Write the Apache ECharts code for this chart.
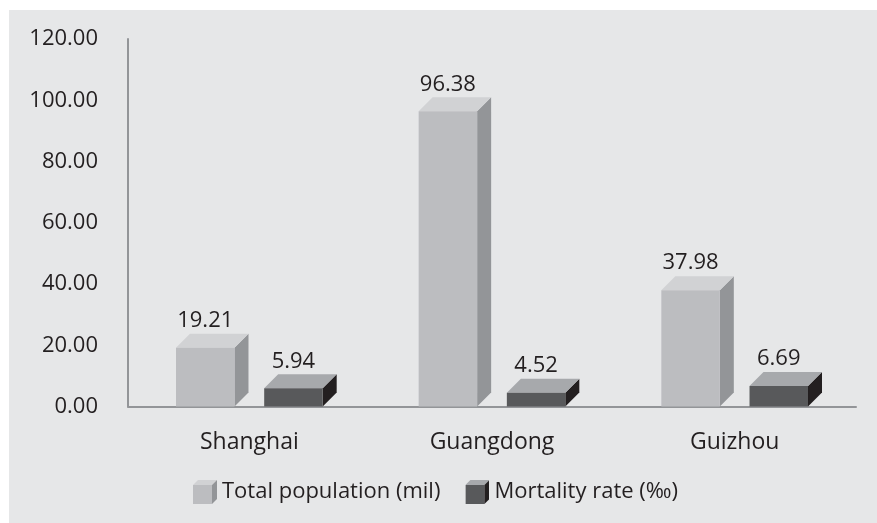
<!DOCTYPE html>
<html><head><meta charset="utf-8">
<script src="https://cdn.jsdelivr.net/npm/echarts@6/dist/echarts.min.js"></script>
<style>html,body{margin:0;padding:0;background:#fff}#c{width:877px;height:523px}</style>
</head><body><div id="c"></div>
<script>
const categories = ['Shanghai', 'Guangdong', 'Guizhou'];
const populationValues = [19.21, 96.38, 37.98];
const mortalityValues = [5.94, 4.52, 6.69];
const seriesNames = ['Total population (mil)', 'Mortality rate (‰)'];
const yTicks = [0, 20, 40, 60, 80, 100, 120];

const FONT = '"Open Sans", sans-serif';
const TEXT = '#231f20';
const palettes = [
  {front: '#bcbdc0', top: '#d1d2d4', side: '#939598'},
  {front: '#58595b', top: '#a7a9ac', side: '#231f20'}
];
const DEPTH = 14;

function cubeIcon(p) {
  const svg = '<svg xmlns="http://www.w3.org/2000/svg" width="24" height="24" viewBox="0 0 24 24">' +
    '<polygon points="0,5 5,0 24,0 19,5" fill="' + p.top + '"/>' +
    '<rect x="0" y="5" width="19" height="19" fill="' + p.front + '"/>' +
    '<polygon points="19,5 24,0 24,19 19,24" fill="' + p.side + '"/>' +
    '</svg>';
  return 'image://data:image/svg+xml;charset=utf-8,' + encodeURIComponent(svg);
}

function makeRender(seriesIdx) {
  const p = palettes[seriesIdx];
  return function (params, api) {
    const cat = api.value(0), val = api.value(1);
    const base = api.coord([cat, 0]);
    const topPt = api.coord([cat, val]);
    const band = api.size([1, 0])[0];
    const bw = band * 0.241;
    const gap = bw * 0.508;
    const total = 2 * bw + gap;
    const x0 = base[0] - total / 2 + seriesIdx * (bw + gap);
    const x1 = x0 + bw;
    const yb = base[1], yt = topPt[1];
    const d = DEPTH;
    return {
      type: 'group',
      children: [
        {type: 'polygon', shape: {points: [[x1, yb], [x1 + d, yb - d], [x1 + d, yt - d], [x1, yt]]}, style: {fill: p.side}},
        {type: 'polygon', shape: {points: [[x0, yt], [x0 + d, yt - d], [x1 + d, yt - d], [x1, yt]]}, style: {fill: p.top}},
        {type: 'rect', shape: {x: x0, y: yt, width: bw, height: yb - yt}, style: {fill: p.front}},
        {type: 'text', x: (x0 + x1) / 2, y: yt - d - 2,
         style: {text: val.toFixed(2), fill: TEXT, font: '22px ' + FONT, textAlign: 'center', textVerticalAlign: 'bottom'}}
      ]
    };
  };
}

const chart = echarts.init(document.getElementById('c'), null, {renderer: 'canvas'});
chart.setOption({
  animation: false,
  backgroundColor: '#ffffff',
  textStyle: {fontFamily: FONT, color: TEXT},
  graphic: [{type: 'rect', left: 9, top: 10, shape: {width: 868, height: 513}, style: {fill: '#e6e7e8'}, z: -10, silent: true}],
  grid: {left: 128, right: 21, top: 39, bottom: 116.5, containLabel: false},
  legend: {
    left: 188, top: 475, itemGap: 25, itemWidth: 24, itemHeight: 24,
    textStyle: {fontSize: 22, fontFamily: FONT, color: TEXT},
    data: [
      {name: seriesNames[0], icon: cubeIcon(palettes[0])},
      {name: seriesNames[1], icon: cubeIcon(palettes[1])}
    ]
  },
  xAxis: {
    type: 'category', data: categories,
    axisLine: {lineStyle: {color: '#939598', width: 2}},
    axisTick: {show: false},
    axisLabel: {fontSize: 23, fontFamily: FONT, color: TEXT, margin: 24}
  },
  yAxis: {
    type: 'value', min: yTicks[0], max: yTicks[yTicks.length - 1], interval: 20,
    axisLine: {show: true, lineStyle: {color: '#939598', width: 2}},
    axisTick: {show: false},
    splitLine: {show: false},
    axisLabel: {fontSize: 22, fontFamily: FONT, color: TEXT, margin: 30, formatter: v => v.toFixed(2)}
  },
  series: [
    {name: seriesNames[0], type: 'custom', renderItem: makeRender(0),
     itemStyle: {color: palettes[0].front},
     data: populationValues.map((v, i) => [i, v])},
    {name: seriesNames[1], type: 'custom', renderItem: makeRender(1),
     itemStyle: {color: palettes[1].front},
     data: mortalityValues.map((v, i) => [i, v])}
  ]
});
</script></body></html>
